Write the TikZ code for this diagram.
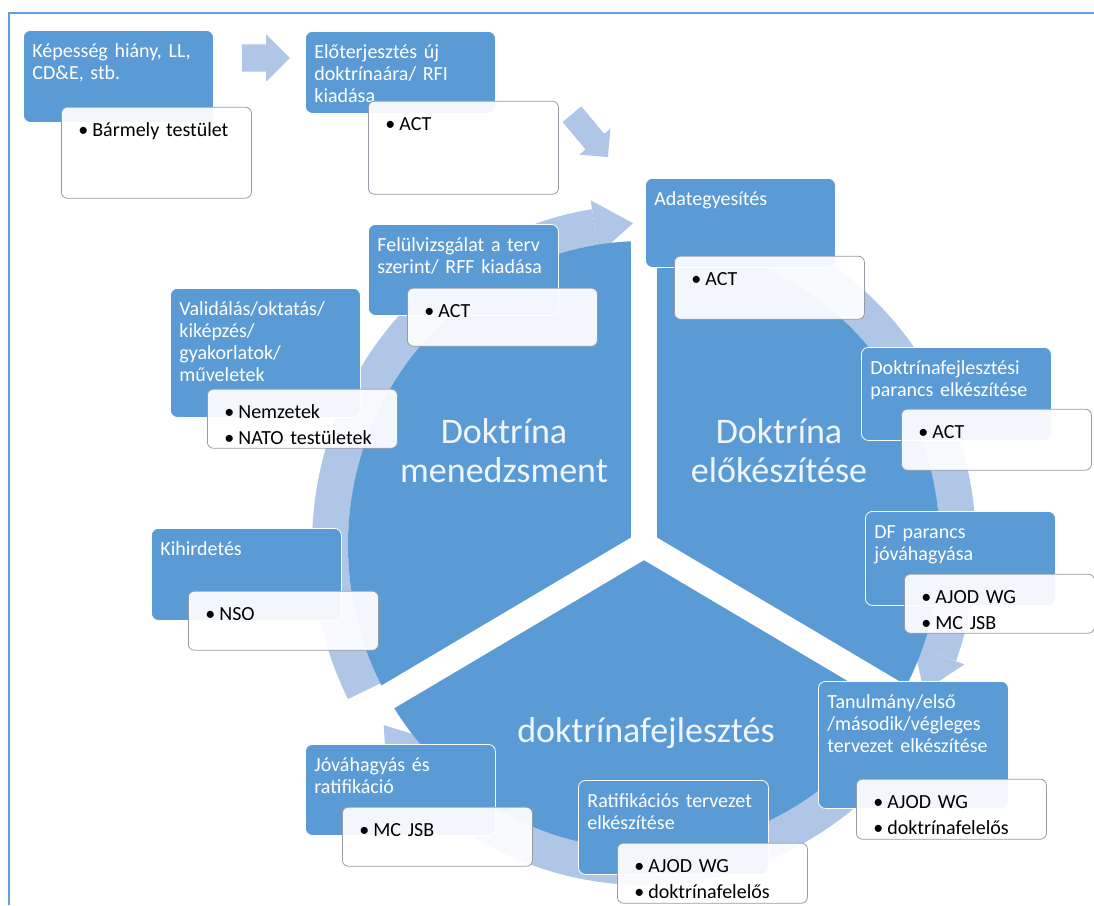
\documentclass[tikz,border=0pt]{standalone}
\usepackage{fontspec}
\setmainfont{Carlito}
\usepackage{tikz}
\usetikzlibrary{shapes.arrows,calc}

\definecolor{boxblue}{RGB}{91,155,213}
\definecolor{ringblue}{RGB}{176,198,230}
\definecolor{framecol}{RGB}{96,158,228}
\definecolor{edgegray}{RGB}{150,156,166}
\definecolor{phasewhite}{RGB}{240,245,252}

\newcommand{\bul}{\hspace*{8pt}\textbullet\hspace{4pt}}

\tikzstyle{stagebox} = [rectangle, rounded corners=7pt, fill=boxblue, draw=white, line width=0.8pt, text=white, anchor=north west, align=left, text width=172pt, text height=27pt, inner xsep=9pt, inner ysep=0pt, font=\fontsize{20}{22}\selectfont]
\tikzstyle{infobox} = [rectangle, rounded corners=6pt, fill=white, fill opacity=0.93, text opacity=1, draw=edgegray, line width=0.8pt, text=black, anchor=north west, align=left, text width=172pt, text height=29pt, inner xsep=9pt, inner ysep=0pt, font=\fontsize{20}{26}\selectfont]
\tikzstyle{phase} = [text=phasewhite, align=center, font=\fontsize{36}{39}\selectfont]
\tikzstyle{blockarrow} = [single arrow, fill=ringblue, inner xsep=0pt, inner ysep=13.5pt, single arrow head extend=10pt]
\tikzstyle{ring} = [draw=ringblue, line width=36pt]
\tikzstyle{gap} = [draw=white, line width=26pt]

\begin{document}
\begin{tikzpicture}[x=1pt, y=1pt]
    \useasboundingbox (0,0) rectangle (1094,-905);
    \draw [framecol, line width=2pt] (9,-905) -- (9,-13) -- (1094,-13);

    \begin{scope}[shift={(644,-545)}]
        \coordinate (hub) at (0,0);
        \draw [ring] (207:314 and 322) arc [start angle=207, end angle=99, x radius=314, y radius=322];
        \fill [ringblue] (99:341 and 349) -- (92:314 and 322) -- (99:287 and 295) -- cycle;
        \draw [ring] (88:314 and 322) arc [start angle=88, end angle=-20, x radius=314, y radius=322];
        \fill [ringblue] (-20:341 and 349) -- (-27:314 and 322) -- (-20:287 and 295) -- cycle;
        \draw [ring] (-33:314 and 322) arc [start angle=-33, end angle=-139, x radius=314, y radius=322];
        \fill [ringblue] (-139:341 and 349) -- (-146:314 and 322) -- (-139:287 and 295) -- cycle;
        \fill [boxblue] (hub) ellipse [x radius=296, y radius=304];
        \draw [gap] (hub) -- (90:297 and 305);
        \draw [gap] (hub) -- (210:297 and 305);
        \draw [gap] (hub) -- (330:297 and 305);
    \end{scope}

    \node (mgmt) [phase] at (504,-451) {Doktrína\\menedzsment};
    \node (prep) [phase] at (779,-451) {Doktrína\\előkészítése};
    \node (devt) [phase] at (646,-733) {doktrínafejlesztés};

    \node (arrA) [blockarrow, minimum height=48pt] at (259,-58) {};
    \node (arrB) [blockarrow, minimum height=56pt, inner ysep=12pt, single arrow head extend=8pt, rotate=-50] at (586,-131) {};

    \node (kep) [stagebox, text depth=65pt] at (23,-30) {Képesség hiány, LL,\\CD\&E, stb.};
    \node (kepd) [infobox, text depth=62pt] at ($(kep.south west)+(38,16)$) {\bul Bármely testület};
    \node (elot) [stagebox, text depth=55pt] at (305,-31) {Előterjesztés új\\doktrínaára/ RFI\\kiadása};
    \node (elotd) [infobox, text depth=64pt] at ($(elot.south west)+(63,13)$) {\bul ACT};
    \node (adat) [stagebox, text depth=62pt] at (645,-178) {Adategyesítés};
    \node (adatd) [infobox, text depth=34pt] at ($(adat.south west)+(29,12)$) {\bul ACT};
    \node (dfkesz) [stagebox, text depth=66pt] at (861,-347) {Doktrínafejlesztési\\parancs elkészítése};
    \node (dfkeszd) [infobox, text depth=32pt] at ($(dfkesz.south west)+(40,32)$) {\bul ACT};
    \node (dfpar) [stagebox, text depth=67pt] at (865,-511) {DF parancs\\jóváhagyása};
    \node (dfpard) [infobox, text depth=30pt] at ($(dfpar.south west)+(39,32)$) {\bul AJOD WG\\\bul MC JSB};
    \node (tanul) [stagebox, text depth=100pt] at (818,-681) {Tanulmány/első\\/második/végleges\\tervezet elkészítése};
    \node (tanuld) [infobox, text depth=31pt] at ($(tanul.south west)+(38,30)$) {\bul AJOD WG\\\bul doktrínafelelős};
    \node (ratif) [stagebox, text depth=67pt] at (578,-780) {Ratifikációs tervezet\\elkészítése};
    \node (ratifd) [infobox, text depth=31pt] at ($(ratif.south west)+(39,32)$) {\bul AJOD WG\\\bul doktrínafelelős};
    \node (jovah) [stagebox, text depth=64pt] at (305,-744) {Jóváhagyás és\\ratifikáció};
    \node (jovahd) [infobox, text depth=30pt] at ($(jovah.south west)+(37,29)$) {\bul MC JSB};
    \node (kihird) [stagebox, text depth=65pt] at (151,-528) {Kihirdetés};
    \node (kihirdd) [infobox, text depth=30pt] at ($(kihird.south west)+(37,30)$) {\bul NSO};
    \node (valid) [stagebox, text depth=102pt] at (170,-288) {Validálás/oktatás/\\kiképzés/\\gyakorlatok/\\műveletek};
    \node (validd) [infobox, text depth=30pt] at ($(valid.south west)+(37,29)$) {\bul Nemzetek\\\bul NATO testületek};
    \node (felul) [stagebox, text depth=64pt] at (368,-224) {Felülvizsgálat a terv\\szerint/ RFF kiadása};
    \node (feluld) [infobox, text depth=29pt] at ($(felul.south west)+(39,28)$) {\bul ACT};
\end{tikzpicture}
\end{document}
